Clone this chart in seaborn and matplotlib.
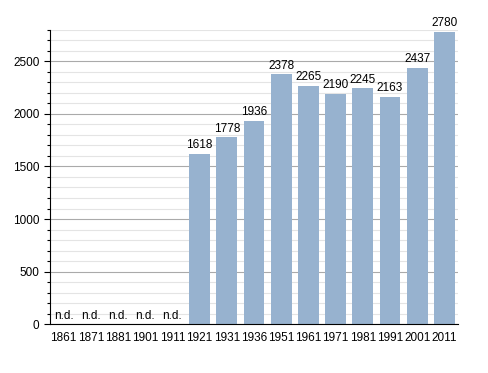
import numpy as np
import pandas as pd
import matplotlib
matplotlib.use("Agg")
import matplotlib.pyplot as plt
from matplotlib.ticker import MultipleLocator
import seaborn as sns

# data
years = ["1861", "1871", "1881", "1901", "1911", "1921", "1931", "1936",
         "1951", "1961", "1971", "1981", "1991", "2001", "2011"]
population = [np.nan, np.nan, np.nan, np.nan, np.nan, 1618, 1778, 1936,
              2378, 2265, 2190, 2245, 2163, 2437, 2780]

df = pd.DataFrame({"year": years, "pop": population})

sns.set_style("white")
plt.rcParams["font.family"] = ["Liberation Sans", "DejaVu Sans"]
plt.rcParams["text.color"] = "black"
plt.rcParams["xtick.color"] = "black"
plt.rcParams["ytick.color"] = "black"

fig = plt.figure(figsize=(4.88, 3.73), dpi=100)
ax = fig.add_axes([0.1025, 0.131, 0.836, 0.789])

sns.barplot(data=df.fillna(0), x="year", y="pop", color="#97b2cf",
            saturation=1, width=0.77, linewidth=0, ax=ax)

for i, v in enumerate(population):
    if np.isnan(v):
        ax.text(i, 20, "n.d.", ha="center", va="bottom", fontsize=8.5)
    else:
        ax.text(i, v + 25, str(int(v)), ha="center", va="bottom", fontsize=8.5)

ax.set_ylim(0, 2800)
ax.set_xlim(-0.5, len(years) - 0.5)
ax.yaxis.set_major_locator(MultipleLocator(500))
ax.yaxis.set_minor_locator(MultipleLocator(100))
ax.grid(axis="y", which="major", color="#aaaaaa", lw=0.8)
ax.grid(axis="y", which="minor", color="#e4e4e4", lw=0.8)
ax.set_axisbelow(True)

for s in ["top", "right"]:
    ax.spines[s].set_visible(False)
ax.spines["left"].set_color("black")
ax.spines["bottom"].set_color("black")
ax.tick_params(axis="y", which="major", left=True, length=4, width=0.8, labelsize=8.5)
ax.tick_params(axis="y", which="minor", left=True, length=2, width=0.8)
ax.tick_params(axis="x", bottom=False, labelsize=8.5, pad=2)
ax.set_xlabel("")
ax.set_ylabel("")

fig.savefig("out.png", dpi=100)
